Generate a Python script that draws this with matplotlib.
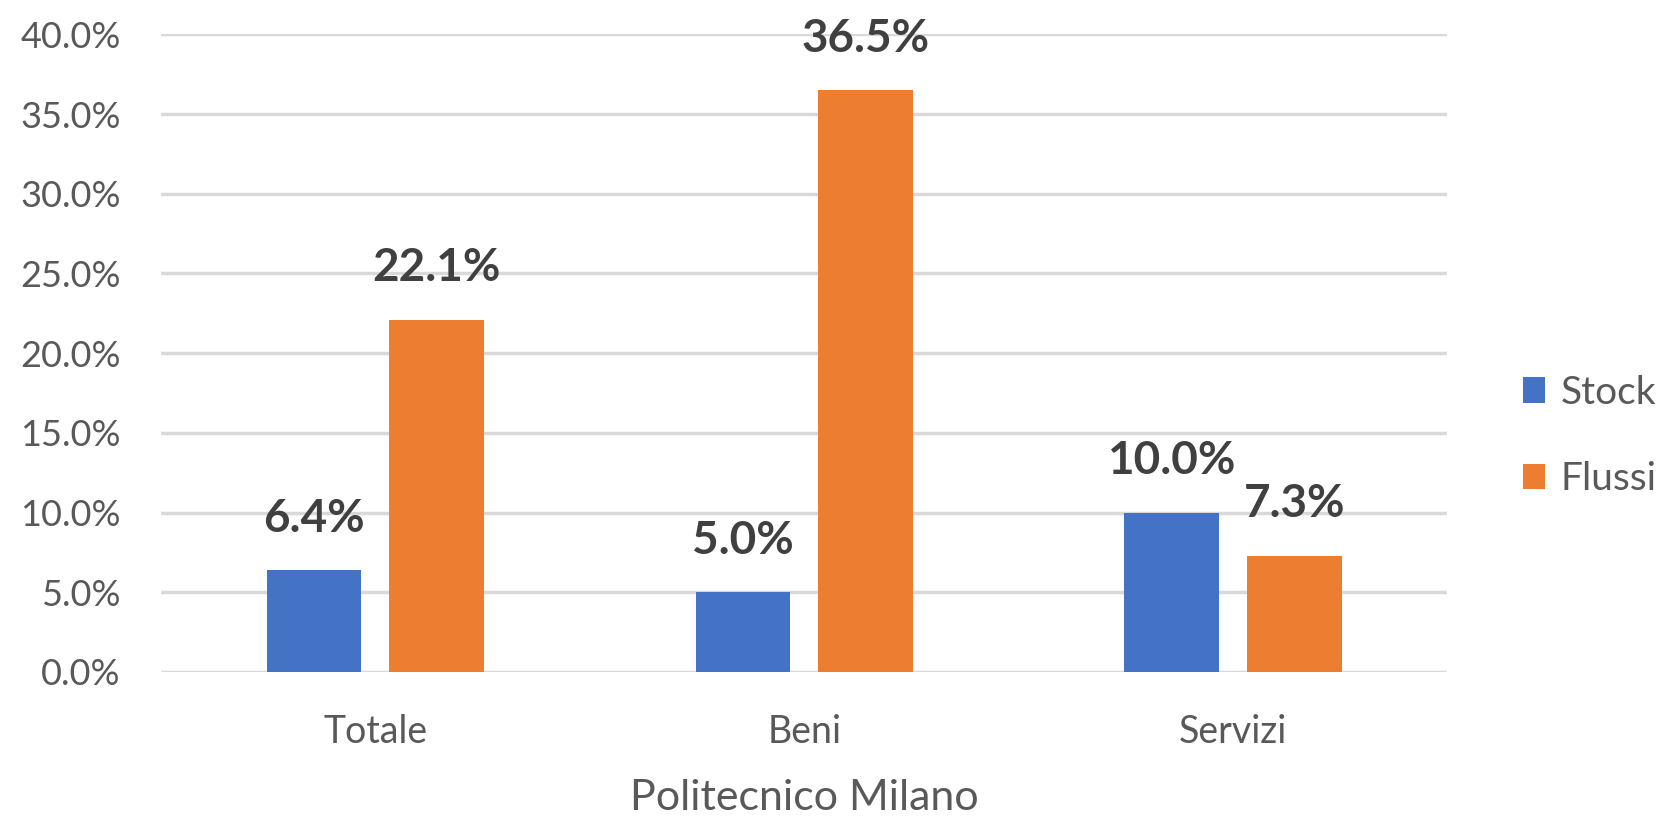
import numpy as np
import matplotlib.pyplot as plt

categories = ['Totale', 'Beni', 'Servizi']
stock = [6.4, 5.0, 10.0]
flussi = [22.1, 36.5, 7.3]
yticks = [0, 5, 10, 15, 20, 25, 30, 35, 40]

plt.rcParams['font.family'] = ['Lato', 'DejaVu Sans']

fig = plt.figure(figsize=(16.58, 8.19), dpi=100)
ax = fig.add_axes([0.097, 0.1795, 0.776, 0.7785])

x = np.arange(len(categories))
w = 0.22
b1 = ax.bar(x - 0.143, stock, w, color='#4472C4', label='Stock', zorder=3)
b2 = ax.bar(x + 0.143, flussi, w, color='#ED7D31', label='Flussi', zorder=3)

for bars, vals in ((b1, stock), (b2, flussi)):
    for r, v in zip(bars, vals):
        ax.text(r.get_x() + r.get_width() / 2, v + 1.9, f'{v:.1f}%',
                ha='center', va='bottom', fontsize=33, fontweight='bold',
                color='#404040')

ax.set_xlim(-0.5, 2.5)
ax.set_ylim(0, 40)
ax.set_yticks(yticks)
ax.set_yticklabels([f'{t:.1f}%' for t in yticks])
ax.set_xticks(x)
ax.set_xticklabels(categories)
ax.tick_params(axis='both', length=0, colors='#595959')
ax.tick_params(axis='y', pad=29, labelsize=26)
ax.tick_params(axis='x', pad=30, labelsize=27)
ax.yaxis.grid(True, color='#D9D9D9', linewidth=2.5, zorder=0)
ax.set_axisbelow(True)
for s in ax.spines.values():
    s.set_visible(False)

fig.text(0.485, 1 - 798 / 819, 'Politecnico Milano', fontsize=31,
         color='#595959', ha='center', va='center')

fig.legend(handles=[b1, b2], loc='center left',
           bbox_to_anchor=(1523 / 1658, 1 - 436 / 819),
           bbox_transform=fig.transFigure, frameon=False, fontsize=28,
           labelcolor='#595959', handlelength=0.57, handleheight=0.62,
           labelspacing=1.3, handletextpad=0.39, borderpad=0,
           borderaxespad=0)

fig.savefig('out.png', dpi=100)
